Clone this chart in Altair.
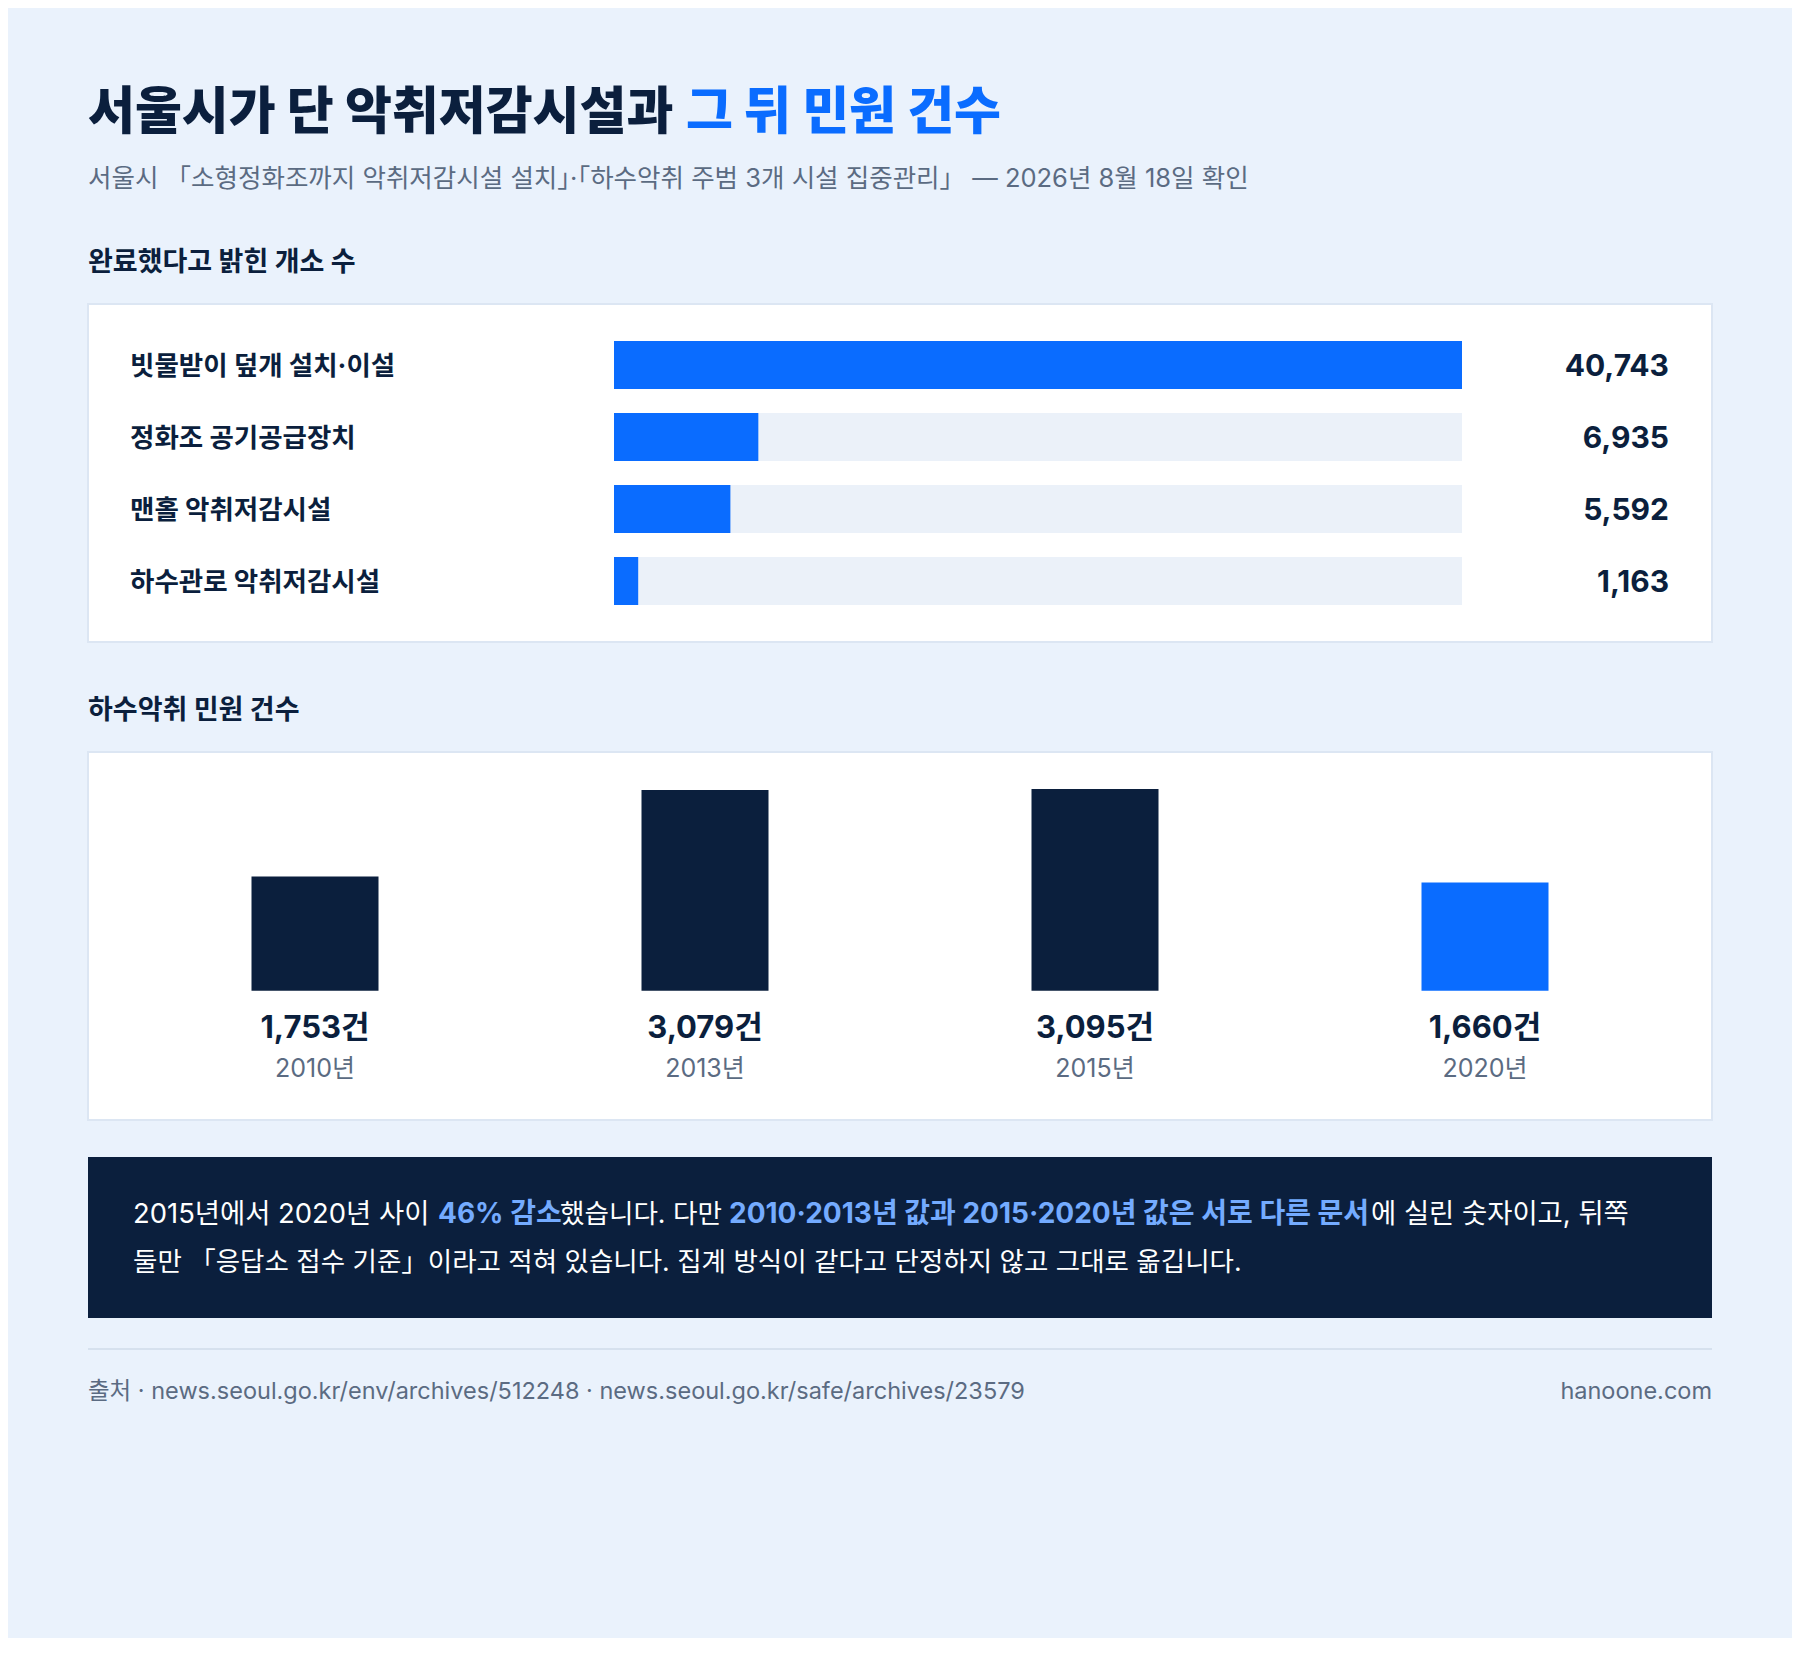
import altair as alt
import pandas as pd

# ---------------- data ----------------
facility_labels = ["빗물받이 덮개 설치·이설", "정화조 공기공급장치", "맨홀 악취저감시설", "하수관로 악취저감시설"]
facility_counts = [40743, 6935, 5592, 1163]

complaint_years = ["2010년", "2013년", "2015년", "2020년"]
complaint_counts = [1753, 3079, 3095, 1660]

title_main = "서울시가 단 악취저감시설과"
title_accent = "그 뒤 민원 건수"
subtitle = "서울시 「소형정화조까지 악취저감시설 설치」·「하수악취 주범 3개 시설 집중관리」 — 2026년 8월 18일 확인"
section1 = "완료했다고 밝힌 개소 수"
section2 = "하수악취 민원 건수"
note_line1 = [
    ("2015년에서 2020년 사이", False),
    ("46% 감소", True),
    ("했습니다. 다만", False),
    ("2010·2013년 값과 2015·2020년 값은 서로 다른 문서", True),
    ("에 실린 숫자이고, 뒤쪽", False),
]
note_line2 = "둘만 「응답소 접수 기준」이라고 적혀 있습니다. 집계 방식이 같다고 단정하지 않고 그대로 옮깁니다."
footer_left = "출처 · news.seoul.go.kr/env/archives/512248 · news.seoul.go.kr/safe/archives/23579"
footer_right = "hanoone.com"

# ---------------- styles ----------------
FONT = "Inter, Noto Sans CJK KR"
BG = "#EAF2FC"
NAVY = "#0B1F3D"
BLUE = "#0A6CFF"
LIGHTBLUE = "#74ABFF"
GRAY = "#5B6B82"
TRACK = "#EBF1F9"
BORDER = "#DCE6F3"

W, H = 1784, 1630
dummy = pd.DataFrame({"d": [0]})


def txt(text, x, y, size, color=NAVY, weight=400, align="left"):
    return alt.Chart(dummy).mark_text(
        font=FONT, fontSize=size, fontWeight=weight, color=color,
        align=align, baseline="middle"
    ).encode(x=alt.value(x), y=alt.value(y), text=alt.value(text))


def box(x, x2, y, y2, fill, stroke=None):
    kw = dict(fill=fill)
    if stroke:
        kw.update(stroke=stroke, strokeWidth=2)
    return alt.Chart(dummy).mark_rect(**kw).encode(
        x=alt.value(x), x2=alt.value(x2), y=alt.value(y), y2=alt.value(y2))


layers = []
# panels
layers.append(box(80, 1704, 296, 634, "white", BORDER))
layers.append(box(80, 1704, 744, 1112, "white", BORDER))
layers.append(box(80, 1704, 1149, 1310, NAVY))
layers.append(alt.Chart(dummy).mark_rule(color="#D6E1EE", strokeWidth=2).encode(
    x=alt.value(80), x2=alt.value(1704), y=alt.value(1341)))

# titles
layers.append(txt(title_main, 80, 106, 51, NAVY, 800))
layers.append(txt(title_accent, 678, 106, 51, BLUE, 800))
layers.append(txt(subtitle, 80, 171, 25.5, GRAY, 400))
layers.append(txt(section1, 80, 255, 27, NAVY, 700))
layers.append(txt(section2, 80, 703, 27, NAVY, 700))

# note box
note_x = [125, 430, 552, 721, 1363]
note_sizes = [27.4, 28, 26.6, 28, 27.4]
for (s, hl), nx, fs in zip(note_line1, note_x, note_sizes):
    layers.append(txt(s, nx, 1207, fs, LIGHTBLUE if hl else "white", 700 if hl else 400))
layers.append(txt(note_line2, 125, 1255, 26.5, "white", 400))

# footer
layers.append(txt(footer_left, 80, 1384, 23.5, GRAY, 400))
layers.append(txt(footer_right, 1704, 1384, 23.5, GRAY, 400, "right"))

bg = alt.layer(*layers)

# ---------------- horizontal bars ----------------
hdf = pd.DataFrame({
    "label": facility_labels,
    "value": facility_counts,
})
hdf["track"] = hdf["value"].max()
hdf["value_text"] = [f"{v:,}" for v in facility_counts]

xh = alt.Scale(domain=[0, max(facility_counts)], range=[606, 1454], nice=False, zero=True)
yh = alt.Scale(domain=facility_labels, range=[321, 609], paddingInner=1 / 3, paddingOuter=1 / 6)

hbase = alt.Chart(hdf)
htrack = hbase.mark_bar(color=TRACK).encode(
    x=alt.X("track:Q", scale=xh, axis=None),
    y=alt.Y("label:N", scale=yh, axis=None, sort=facility_labels),
)
hbar = hbase.mark_bar(color=BLUE).encode(
    x=alt.X("value:Q", scale=xh, axis=None),
    y=alt.Y("label:N", scale=yh, axis=None, sort=facility_labels),
)
hlab = hbase.mark_text(font=FONT, fontSize=26.5, fontWeight=700, color=NAVY, align="left", baseline="middle", dy=2).encode(
    x=alt.value(122),
    y=alt.Y("label:N", scale=yh, axis=None, sort=facility_labels),
    text="label:N",
)
hval = hbase.mark_text(font=FONT, fontSize=30, fontWeight=700, color=NAVY, align="right", baseline="middle", dy=2).encode(
    x=alt.value(1661),
    y=alt.Y("label:N", scale=yh, axis=None, sort=facility_labels),
    text="value_text:N",
)
hchart = alt.layer(htrack, hbar, hlab, hval)

# ---------------- vertical bars ----------------
vdf = pd.DataFrame({"year": complaint_years, "count": complaint_counts})
vdf["count_text"] = [f"{v:,}건" for v in complaint_counts]

pi = 1 - 127 / 390
xv = alt.Scale(domain=complaint_years, range=[112, 1672], paddingInner=pi, paddingOuter=pi / 2)
yv = alt.Scale(domain=[0, max(complaint_counts)], range=[982.7, 781], nice=False, zero=True)

vbase = alt.Chart(vdf)
vbar = vbase.mark_bar().encode(
    x=alt.X("year:N", scale=xv, axis=None, sort=complaint_years),
    y=alt.Y("count:Q", scale=yv, axis=None),
    color=alt.condition(alt.datum.year == "2020년", alt.value(BLUE), alt.value(NAVY)),
)
vval = vbase.mark_text(font=FONT, fontSize=31, fontWeight=700, color=NAVY, align="center", baseline="middle").encode(
    x=alt.X("year:N", scale=xv, axis=None, sort=complaint_years),
    y=alt.value(1021),
    text="count_text:N",
)
vyear = vbase.mark_text(font=FONT, fontSize=25, fontWeight=400, color=GRAY, align="center", baseline="middle").encode(
    x=alt.X("year:N", scale=xv, axis=None, sort=complaint_years),
    y=alt.value(1060.5),
    text="year:N",
)
vchart = alt.layer(vbar, vval, vyear)

chart = alt.layer(bg, hchart, vchart).resolve_scale(x="independent", y="independent").properties(
    width=W, height=H, padding=0, autosize=alt.AutoSizeParams(type="none"), background=BG
).configure_view(strokeWidth=0)

chart.save("out.html", embed_options={"renderer": "svg", "actions": False})
